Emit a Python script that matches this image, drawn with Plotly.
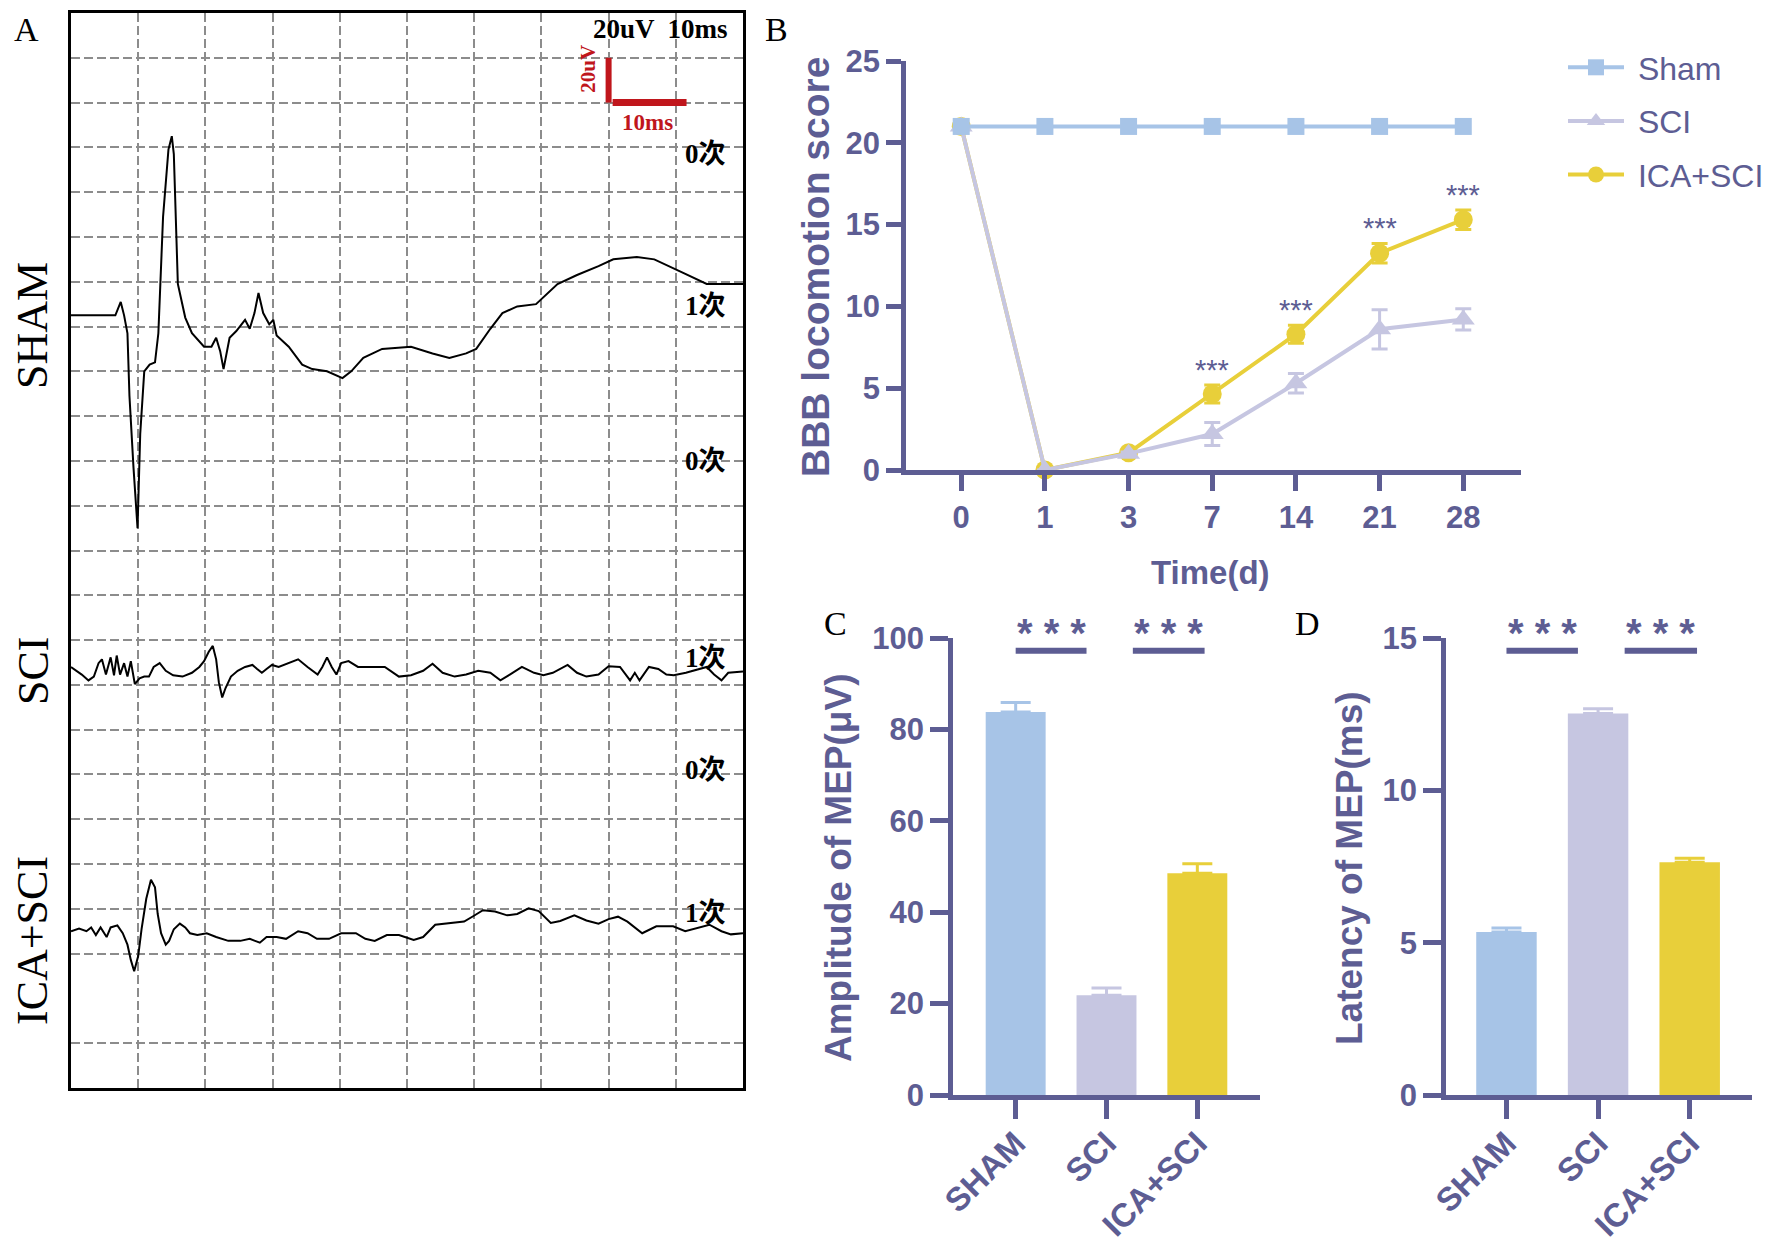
import plotly.graph_objects as go

# ---- panel A: MEP traces (time in ms, amplitude in uV relative to each trace baseline)
sham_ms = [0, 6.6, 7.4, 7.9, 8.4, 8.7, 9.3, 9.9, 10.3, 10.9, 11.7, 12.5, 13.0, 13.7, 14.5, 15.0, 15.3, 15.9, 17.0, 18.0,
           19.8, 20.9, 21.6, 22.2, 22.7, 23.6, 24.6, 25.9, 26.6, 27.3, 27.9, 28.6, 29.5, 30.1, 30.6, 32.4, 34.4, 35.9, 38.1, 40.4,
           41.7, 43.5, 46.3, 50.6, 53.8, 56.3, 58.8, 60.3, 62.4, 64.2, 66.4, 69.2, 72.4, 75.3, 78.5, 80.7, 84.2, 86.8, 91.1, 94.6, 100]
sham_uv = [0, 0, 6, 0, -8, -36, -68, -95, -53, -25, -22, -21, -8, 44, 74, 80, 72, 14, -1, -8,
           -14, -14, -10, -16, -24, -10, -7, -2, -6, 1, 10, 1, -4, -2, -9, -14, -22, -24, -25, -28,
           -25, -19, -15, -14, -17, -19, -17, -15, -6, 1, 4, 5, 14, 18, 22, 25, 26, 25, 19, 14, 14]

sci_ms = [0, 1.6, 2.6, 3.4, 4.1, 4.6, 5.2, 5.9, 6.4, 6.8, 7.3, 7.9, 8.4, 8.9, 9.5, 10.2, 10.9, 11.6, 12.3, 13.2,
          14.1, 15.2, 16.6, 18.0, 19.1, 19.8, 20.5, 21.1, 21.6, 22.0, 22.5, 23.0, 23.8, 24.8, 25.9, 27.0, 27.7, 28.4, 29.1, 29.9,
          30.9, 32.4, 33.8, 35.2, 36.7, 37.4, 38.1, 38.8, 39.5, 40.2, 41.3, 42.7, 44.5, 46.7, 48.8, 50.6, 52.4, 53.8, 55.3, 57.1,
          58.8, 60.6, 62.4, 63.9, 65.3, 67.1, 68.9, 70.3, 71.7, 73.9, 75.3, 76.7, 78.5, 80.0, 81.7, 82.5, 83.2, 83.9, 84.6, 86.0,
          87.4, 88.6, 89.7, 91.5, 94.6, 95.7, 96.8, 97.8, 100]
sci_uv = [0, -3.4, -6, -4.3, 1.7, 3.4, -3.4, 4.3, -3.7, 5.1, -3.4, 1.7, -4.3, 2.6, -7.7, -5.1, -4.3, -4.3, 0, 1.7,
          -1.7, -3.7, -4.3, -2.6, 0, 2.6, 6.8, 9.4, 3.4, -6.8, -13.6, -9.4, -4.3, -1.7, 0, 0.9, -0.9, -2.6, -0.9, 0.9,
          0, 1.7, 3.4, 0, -3.4, 0, 4.3, 0, -3.4, 1.7, 2.6, 0, 0, 0, -4.3, -3.7, -1.7, 1.4, -2.6, -4.3,
          -3.4, -1.7, -2.6, -6, -3.4, 0, -2.6, -3.7, -2.6, 0.9, -2.6, -4.3, -3.4, 0.3, 0, -3.4, -6, -2.6, -6, 0,
          -0.9, -3.4, -3.7, -2.6, 0, -3.4, -6, -2.6, -2.0]

ica_ms = [0, 1.2, 2.3, 3.0, 3.7, 4.4, 5.3, 5.9, 6.9, 7.7, 8.4, 8.9, 9.4, 10.0, 10.5, 11.2, 11.9, 12.5, 12.9, 13.4,
          14.1, 14.6, 15.3, 16.2, 17.0, 17.7, 18.8, 20.2, 21.6, 23.4, 25.2, 26.6, 28.1, 29.1, 30.6, 32.0, 33.8, 35.2, 36.6, 38.4,
          40.2, 42.4, 43.8, 45.2, 47.0, 48.8, 51.0, 52.4, 54.2, 56.0, 58.5, 59.9, 61.3, 63.1, 64.9, 66.4, 68.1, 69.6, 71.4, 72.8,
          74.9, 76.7, 78.5, 80.0, 81.4, 82.8, 85.0, 87.1, 89.6, 91.4, 93.6, 95.0, 96.8, 98.2, 100]
ica_uv = [0, 1.2, 0, 1.7, -1.7, 1.7, -2.6, 1.7, 2.6, -0.9, -6.0, -12.8, -17.9, -11.1, 0.9, 14.5, 23.0, 19.6, 7.7, -0.9,
          -6.0, -4.3, 0.9, 3.4, 1.7, -0.9, -1.7, -0.9, -2.6, -4.3, -4.3, -3.4, -5.1, -2.6, -2.6, -3.4, 0, -0.9, -3.4, -3.4,
          -0.9, -0.9, -3.4, -4.3, -1.7, -1.7, -3.9, -2.6, 2.9, 3.4, 4.3, 6.8, 9.4, 8.8, 7.1, 7.7, 10.2, 9.0, 3.7, 4.6,
          7.1, 4.8, 3.4, 5.4, 6.5, 4.3, -0.9, 2.2, 2.2, 0, 1.7, 2.9, 0, -1.4, -0.9]

# sweep counters shown at the right edge of panel A
count_labels = ["0次", "1次", "0次", "1次", "0次", "1次"]
count_levels = [417, 349, 280, 192, 142, 78]

# ---- panel B: BBB score
days = ["0", "1", "3", "7", "14", "21", "28"]
sham_bbb = [21, 21, 21, 21, 21, 21, 21]
sci_bbb = [21, 0, 1.0, 2.2, 5.3, 8.6, 9.2]
sci_err = [0, 0, 0.1, 0.7, 0.6, 1.2, 0.65]
ica_bbb = [21, 0, 1.05, 4.65, 8.3, 13.25, 15.3]
ica_err = [0, 0, 0.1, 0.55, 0.55, 0.6, 0.6]
bbb_sig = ["", "", "", "***", "***", "***", "***"]

# ---- panels C and D
groups = ["SHAM", "SCI", "ICA+SCI"]
amp = [83.8, 21.8, 48.5]
amp_err = [2.1, 1.6, 2.1]
lat = [5.35, 12.52, 7.64]
lat_err = [0.13, 0.16, 0.13]

W, H = 1772, 1243
OFF = 8  # page body margin, everything below is laid out in window pixels
AXC = "#5d5d93"
BLUE = "#a7c4e7"
LAV = "#c6c6e1"
YEL = "#e8cf3a"
RED = "#c0161c"
SERIF = "Liberation Serif, Times New Roman, Noto Sans CJK SC, serif"
SANS = "Liberation Sans, Arial, sans-serif"
NARROW = "Liberation Sans Narrow, Arial Narrow, Liberation Sans, sans-serif"
NB = "\u00a0"


def px(x):
    return (x - OFF) / W


def py(y):
    return 1 - (y - OFF) / H


fig = go.Figure()

# panel A traces
for ms, uv, base in [(sham_ms, sham_uv, 345), (sci_ms, sci_uv, 188), (ica_ms, ica_uv, 70)]:
    fig.add_trace(go.Scatter(x=ms, y=[base + v for v in uv], mode="lines",
                             line=dict(color="black", width=2), showlegend=False,
                             xaxis="x", yaxis="y"))

# panel B traces (drawn back to front like the original)
fig.add_trace(go.Scatter(x=days, y=ica_bbb, name=NB + "ICA+SCI", mode="lines+markers",
                         line=dict(color=YEL, width=4), marker=dict(symbol="circle", size=19, color=YEL),
                         error_y=dict(type="data", array=ica_err, color=YEL, thickness=3, width=8),
                         cliponaxis=False, legendrank=3, legendgroup="c", xaxis="x2", yaxis="y2"))
fig.add_trace(go.Scatter(x=days, y=sci_bbb, name=NB + "SCI", mode="lines+markers",
                         line=dict(color=LAV, width=4), marker=dict(symbol="triangle-up", size=20, color=LAV),
                         error_y=dict(type="data", array=sci_err, color=LAV, thickness=3, width=8),
                         cliponaxis=False, legendrank=2, legendgroup="b", xaxis="x2", yaxis="y2"))
fig.add_trace(go.Scatter(x=days, y=sham_bbb, name=NB + "Sham", mode="lines+markers",
                         line=dict(color=BLUE, width=4), marker=dict(symbol="square", size=17, color=BLUE),
                         cliponaxis=False, legendrank=1, legendgroup="a", xaxis="x2", yaxis="y2"))

# panels C and D bars
for vals, errs, xa, ya in [(amp, amp_err, "x3", "y3"), (lat, lat_err, "x4", "y4")]:
    for g, v, e, c in zip(groups, vals, errs, [BLUE, LAV, YEL]):
        fig.add_trace(go.Bar(x=[g], y=[v], marker=dict(color=c, line=dict(width=0)),
                             error_y=dict(type="data", array=[e], arrayminus=[0], symmetric=False,
                                          color=c, thickness=3, width=15),
                             showlegend=False, xaxis=xa, yaxis=ya))

ann = []
shapes = []


def label(x, y, text, font, angle=0):
    ann.append(dict(x=px(x), y=py(y), xref="paper", yref="paper", text=text, textangle=angle,
                    showarrow=False, xanchor="center", yanchor="middle", font=font))


# panel A texts
for lab, lev in zip(count_labels, count_levels):
    ann.append(dict(x=94.4, y=lev, xref="x", yref="y", text=lab, showarrow=False,
                    font=dict(family=SERIF, size=27, color="black", weight="bold")))
ann.append(dict(x=87.7, y=473, xref="x", yref="y", text="20uV  10ms", showarrow=False,
                font=dict(family=SERIF, size=27, color="black", weight="bold")))
ann.append(dict(x=76.9, y=455, xref="x", yref="y", text="20uV", textangle=-90, showarrow=False,
                font=dict(family=SERIF, size=21, color=RED, weight="bold")))
ann.append(dict(x=85.8, y=431, xref="x", yref="y", text="10ms", showarrow=False,
                font=dict(family=SERIF, size=23, color=RED, weight="bold")))
shapes.append(dict(type="line", xref="x", yref="y", x0=80, x1=80, y0=440, y1=460, line=dict(color=RED, width=6)))
shapes.append(dict(type="line", xref="x", yref="y", x0=80.6, x1=91.6, y0=440, y1=440, line=dict(color=RED, width=7)))

for lab, yy in [("SHAM", 326), ("SCI", 671), ("ICA+SCI", 941)]:
    label(33, yy, lab, dict(family=SERIF, size=44, color="black"), -90)

# panel letters
for lab, xx, yy in [("A", 26, 29), ("B", 776, 29), ("C", 835, 623), ("D", 1307, 623)]:
    label(xx, yy, lab, dict(family=SERIF, size=34, color="black"))

# axis titles
label(815, 267, "BBB locomotion score", dict(family=SANS, size=39, color=AXC, weight="bold"), -90)
label(1210, 572, "Time(d)", dict(family=SANS, size=33, color=AXC, weight="bold"))
label(838, 868, "Amplitude of MEP(μV)", dict(family=SANS, size=37, color=AXC, weight="bold"), -90)
label(1349, 868, "Latency of MEP(ms)", dict(family=SANS, size=37, color=AXC, weight="bold"), -90)

# BBB significance stars
for i, (v, e, s) in enumerate(zip(ica_bbb, ica_err, bbb_sig)):
    if s:
        ann.append(dict(x=i, y=v + e, xref="x2", yref="y2", text=s, showarrow=False, yanchor="bottom", yshift=-3,
                        font=dict(family=NARROW, size=29, color=AXC)))

# C / D significance bars
for xa, ya, ytop in [("x3", "y3", 100), ("x4", "y4", 15)]:
    ybar = ytop * 0.972
    for x0, x1 in [(0.0, 0.78), (1.29, 2.08)]:
        shapes.append(dict(type="line", xref=xa, yref=ya, x0=x0, x1=x1, y0=ybar, y1=ybar,
                           line=dict(color=AXC, width=6)))
        ann.append(dict(x=(x0 + x1) / 2, y=ybar, xref=xa, yref=ya, text="* * *", showarrow=False,
                        yanchor="bottom", yshift=-6, font=dict(family=SANS, size=40, color=AXC, weight="bold")))

gridA = dict(showgrid=True, gridcolor="#8c8c8c", gridwidth=1.5, griddash="9px,4px", zeroline=False,
             showticklabels=False, ticks="", showline=True, mirror=True, linecolor="black", linewidth=3,
             automargin=False)

axB = dict(showgrid=False, zeroline=False, showline=True, linecolor=AXC, linewidth=4.5,
           ticks="outside", tickcolor=AXC, tickwidth=4.5, automargin=False)

fig.update_layout(
    width=W, height=H, margin=dict(l=0, r=0, t=0, b=0, autoexpand=False),
    paper_bgcolor="white", plot_bgcolor="white",
    barmode="overlay", bargap=0.34,
    xaxis=dict(domain=[px(71), px(743)], range=[0, 100], dtick=10, anchor="y", **gridA),
    yaxis=dict(domain=[py(1088), py(13)], range=[0, 480],
               tickvals=[20 * k for k in range(1, 24) if k != 2], anchor="x", **gridA),
    xaxis2=dict(domain=[px(906), px(1521)], type="category", range=[-0.66, 6.69], anchor="y2", ticklen=16,
                tickfont=dict(family=NARROW, size=31, color=AXC, weight="bold"), **axB),
    yaxis2=dict(domain=[py(470), py(61)], range=[0, 25], dtick=5, anchor="x2", ticklen=15,
                tickfont=dict(family=NARROW, size=31, color=AXC, weight="bold"), **axB),
    xaxis3=dict(domain=[px(953), px(1260)], type="category", range=[-0.69, 2.69], anchor="y3", ticklen=19,
                tickangle=-45, ticklabelstandoff=-8,
                tickfont=dict(family=SANS, size=33, color=AXC, weight="bold"), **axB),
    yaxis3=dict(domain=[py(1095), py(638)], range=[0, 100], dtick=20, anchor="x3", ticklen=18,
                tickfont=dict(family=SANS, size=31, color=AXC, weight="bold"), **axB),
    xaxis4=dict(domain=[px(1446), px(1752)], type="category", range=[-0.66, 2.68], anchor="y4", ticklen=19,
                tickangle=-45, ticklabelstandoff=-8,
                tickfont=dict(family=SANS, size=33, color=AXC, weight="bold"), **axB),
    yaxis4=dict(domain=[py(1095), py(638)], range=[0, 15], dtick=5, anchor="x4", ticklen=18,
                tickfont=dict(family=SANS, size=31, color=AXC, weight="bold"), **axB),
    legend=dict(x=px(1563), y=py(40), xanchor="left", yanchor="top", bgcolor="rgba(0,0,0,0)",
                font=dict(family=NARROW, size=32, color=AXC), tracegroupgap=9, itemwidth=56),
    annotations=ann, shapes=shapes,
)

fig.write_html("out.html")
